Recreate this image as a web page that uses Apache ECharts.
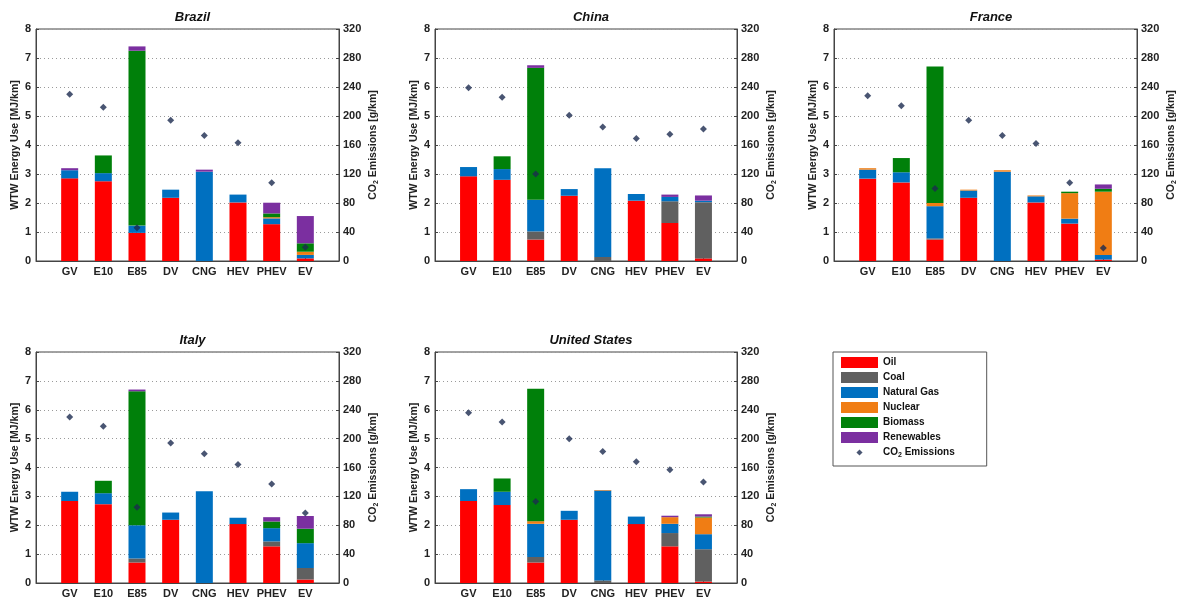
<!DOCTYPE html>
<html>
<head>
<meta charset="utf-8">
<script src="https://cdn.jsdelivr.net/npm/echarts@6/dist/echarts.min.js"></script>
<style>
html,body{margin:0;padding:0;background:#fff;}
#chart{width:1179px;height:599px;}
</style>
</head>
<body>
<div id="chart"></div>
<script>
// ---------- DATA ----------
const categories = ['GV', 'E10', 'E85', 'DV', 'CNG', 'HEV', 'PHEV', 'EV'];
const countries = ['Brazil', 'China', 'France', 'Italy', 'United States'];
const sources = ['Oil', 'Coal', 'Natural Gas', 'Nuclear', 'Biomass', 'Renewables'];
const co2Name = 'CO2 Emissions';
const leftTicks = { min: 0, max: 8, interval: 1 };
const rightTicks = { min: 0, max: 320, interval: 40 };

// WTW energy use by primary source [MJ/km]; one row per country (order of `countries`), one value per vehicle
const oil = [
  [2.85, 2.75, 0.97, 2.18, 0, 2.02, 1.27, 0.09],
  [2.92, 2.80, 0.74, 2.25, 0, 2.08, 1.31, 0.09],
  [2.84, 2.71, 0.74, 2.18, 0, 2.02, 1.29, 0.05],
  [2.84, 2.73, 0.71, 2.19, 0, 2.04, 1.27, 0.12],
  [2.84, 2.70, 0.71, 2.19, 0, 2.04, 1.27, 0.05]
];
const coal = [
  [0, 0, 0, 0, 0, 0, 0, 0],
  [0, 0, 0.28, 0, 0.14, 0, 0.75, 1.94],
  [0, 0, 0.04, 0, 0, 0, 0, 0],
  [0, 0, 0.14, 0, 0, 0, 0.17, 0.40],
  [0, 0, 0.19, 0, 0.09, 0, 0.46, 1.12]
];
const naturalGas = [
  [0.28, 0.28, 0.25, 0.28, 3.08, 0.27, 0.20, 0.12],
  [0.32, 0.37, 1.09, 0.23, 3.06, 0.23, 0.15, 0.05],
  [0.31, 0.35, 1.11, 0.25, 3.08, 0.21, 0.17, 0.16],
  [0.32, 0.38, 1.15, 0.25, 3.18, 0.22, 0.46, 0.86],
  [0.41, 0.46, 1.15, 0.31, 3.11, 0.26, 0.32, 0.52]
];
const nuclear = [
  [0, 0, 0, 0, 0, 0, 0.04, 0.11],
  [0, 0, 0, 0, 0, 0, 0, 0],
  [0.05, 0, 0.11, 0.03, 0.05, 0.03, 0.88, 2.18],
  [0, 0, 0, 0, 0, 0, 0, 0],
  [0, 0, 0.09, 0, 0.02, 0, 0.23, 0.58]
];
const biomass = [
  [0, 0.61, 6.03, 0, 0, 0, 0.13, 0.29],
  [0, 0.44, 4.55, 0, 0, 0, 0, 0],
  [0, 0.49, 4.71, 0, 0, 0, 0.05, 0.10],
  [0, 0.43, 4.64, 0, 0, 0, 0.23, 0.50],
  [0, 0.46, 4.59, 0, 0, 0, 0, 0.03]
];
const renewables = [
  [0.07, 0, 0.15, 0, 0.07, 0, 0.37, 0.94],
  [0, 0, 0.09, 0, 0, 0, 0.08, 0.18],
  [0, 0, 0, 0, 0, 0, 0, 0.15],
  [0, 0, 0.06, 0, 0, 0, 0.15, 0.44],
  [0, 0, 0, 0, 0, 0, 0.05, 0.08]
];
// WTW CO2 emissions [g/km]
const co2 = [
  [230, 212, 46, 194, 173, 163, 108, 19],
  [239, 226, 120, 201, 185, 169, 175, 182],
  [228, 214, 100, 194, 173, 162, 108, 18],
  [230, 217, 105, 194, 179, 164, 137, 97],
  [236, 223, 113, 200, 182, 168, 157, 140]
];

// ---------- STYLE / LAYOUT ----------
const sourceData = [oil, coal, naturalGas, nuclear, biomass, renewables];
const sourceColors = ['#ff0000', '#606060', '#0070c0', '#f07d14', '#00800a', '#7b2fa0'];
const co2Color = '#1c2b4f';
const boxes = [
  { left: 36, top: 29, width: 303, height: 232 },
  { left: 435, top: 29, width: 302, height: 232 },
  { left: 834, top: 29, width: 304, height: 232 },
  { left: 36, top: 352, width: 303, height: 231 },
  { left: 435, top: 352, width: 302, height: 231 }
];
const FONT = '"Liberation Sans", Arial, Helvetica, sans-serif';
const axisColor = '#444';
const labelColor = '#222';

// pad with an empty slot on each side so bars sit at 1..8 of a 0..9 frame
const xCats = [''].concat(categories, ['']);
const pad = arr => [null].concat(arr, [null]);

const grid = [], xAxis = [], yAxis = [], series = [], title = [];
const subRich = {
  n: { fontFamily: FONT, fontWeight: 'bold', fontSize: 10.5, color: labelColor },
  s: { fontFamily: FONT, fontWeight: 'bold', fontSize: 7, color: labelColor, padding: [6, 0, 0, 0] }
};

countries.forEach((c, ci) => {
  const b = boxes[ci];
  grid.push({ left: b.left, top: b.top, width: b.width, height: b.height, show: true,
    borderColor: axisColor, borderWidth: 1, backgroundColor: 'transparent', containLabel: false });
  title.push({ text: c, left: b.left + b.width / 2, top: b.top - 23, textAlign: 'center',
    textStyle: { fontFamily: FONT, fontWeight: 'bold', fontStyle: 'italic', fontSize: 13, color: '#111' } });
  xAxis.push({ type: 'category', gridIndex: ci, data: xCats, boundaryGap: false,
    axisLine: { lineStyle: { color: axisColor } },
    axisTick: { inside: true, length: 3, interval: 0, lineStyle: { color: axisColor } },
    axisLabel: { interval: 0, fontFamily: FONT, fontWeight: 'bold', fontSize: 11, color: labelColor, margin: 5 },
    splitLine: { show: false } });
  yAxis.push({ type: 'value', gridIndex: ci, position: 'left', min: leftTicks.min, max: leftTicks.max, interval: leftTicks.interval,
    name: 'WTW Energy Use [MJ/km]', nameLocation: 'middle', nameRotate: 90, nameGap: 15,
    nameTextStyle: { fontFamily: FONT, fontWeight: 'bold', fontSize: 10.5, color: labelColor },
    axisLine: { show: true, lineStyle: { color: axisColor } },
    axisTick: { show: true, inside: true, length: 3, lineStyle: { color: axisColor } },
    axisLabel: { fontFamily: FONT, fontWeight: 'bold', fontSize: 11, color: labelColor, margin: 5 },
    splitLine: { show: true, lineStyle: { type: [1, 3], color: '#9a9a9a', width: 1 } } });
  yAxis.push({ type: 'value', gridIndex: ci, position: 'right', min: rightTicks.min, max: rightTicks.max, interval: rightTicks.interval,
    name: '{n|CO}{s|2}{n| Emissions [g/km]}', nameLocation: 'middle', nameRotate: 90, nameGap: 28,
    nameTextStyle: { rich: subRich },
    axisLine: { show: true, lineStyle: { color: axisColor } },
    axisTick: { show: true, inside: true, length: 3, lineStyle: { color: axisColor } },
    axisLabel: { fontFamily: FONT, fontWeight: 'bold', fontSize: 11, color: labelColor, margin: 4 },
    splitLine: { show: false } });

  sourceData.forEach((arr, si) => {
    series.push({ type: 'bar', name: sources[si], xAxisIndex: ci, yAxisIndex: ci * 2, stack: 'c' + ci,
      barWidth: 17, data: pad(arr[ci]), itemStyle: { color: sourceColors[si] }, silent: true, animation: false });
  });
  series.push({ type: 'scatter', name: co2Name, xAxisIndex: ci, yAxisIndex: ci * 2 + 1,
    data: pad(co2[ci]), symbol: 'diamond', symbolSize: 7, itemStyle: { color: co2Color }, z: 5, animation: false });
});

const legendNames = sources.concat([co2Name]);
const chart = echarts.init(document.getElementById('chart'), null, { renderer: 'canvas' });
chart.setOption({
  backgroundColor: '#fff',
  animation: false,
  title: title,
  grid: grid,
  xAxis: xAxis,
  yAxis: yAxis,
  legend: {
    orient: 'vertical', left: 833, top: 352,
    data: legendNames.map(n => n === co2Name
      ? { name: n, icon: 'path://M-1.8,-1.8M1.8,1.8M0,-1L1,0L0,1L-1,0Z' }
      : { name: n, icon: 'rect' }),
    itemWidth: 37, itemHeight: 11, itemGap: 4,
    padding: [5, 32, 7, 8],
    borderColor: '#555', borderWidth: 1,
    selectedMode: false,
    formatter: n => n === co2Name ? '{n|CO}{s|2}{n| Emissions}' : '{n|' + n + '}',
    textStyle: { rich: {
      n: { fontFamily: FONT, fontWeight: 'bold', fontSize: 10, color: '#111' },
      s: { fontFamily: FONT, fontWeight: 'bold', fontSize: 7, color: '#111', padding: [6, 0, 0, 0] }
    } }
  },
  series: series
});
</script>
</body>
</html>
